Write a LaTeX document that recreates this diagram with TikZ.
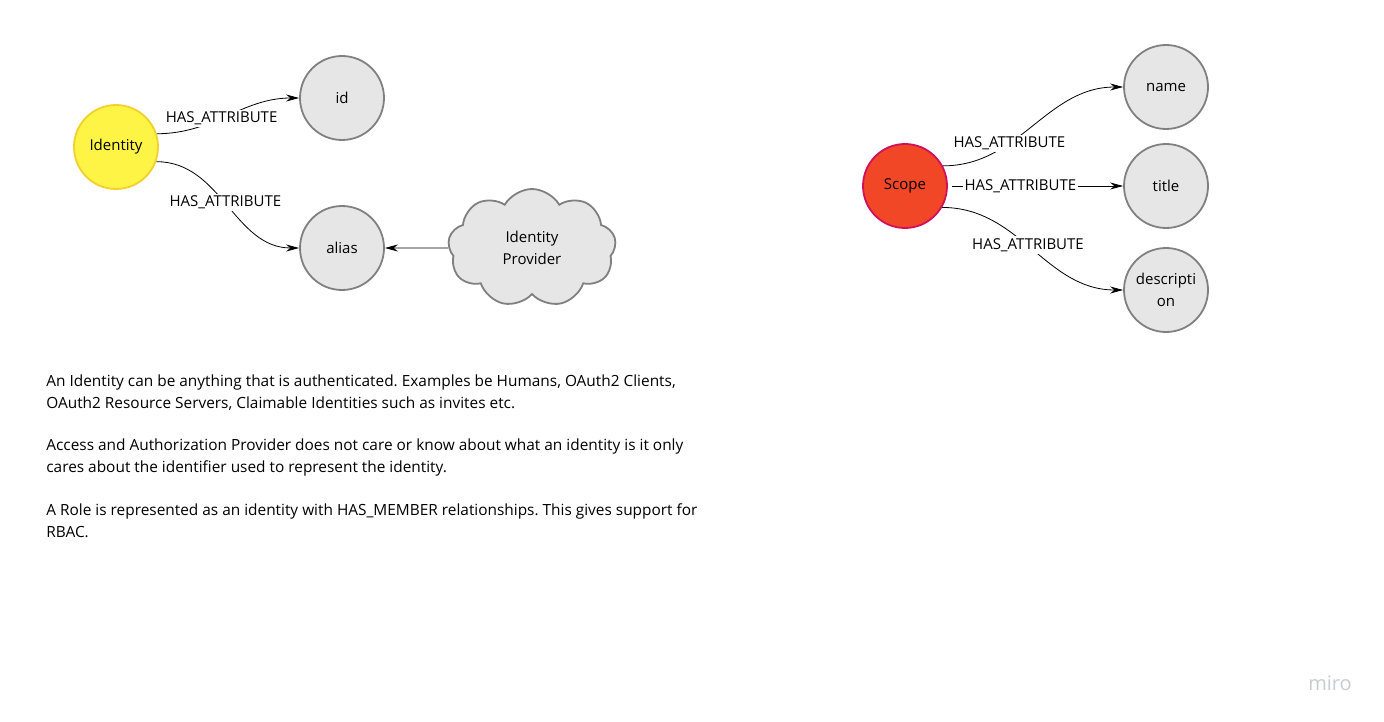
\documentclass[tikz,border=0pt]{standalone}
\usepackage{fontspec}
\setmainfont{Open Sans}
\usetikzlibrary{arrows.meta,shapes.symbols}
\frenchspacing

\definecolor{attrfill}{HTML}{E6E6E6}
\definecolor{attrline}{HTML}{808080}
\definecolor{idfill}{HTML}{FEF445}
\definecolor{idline}{HTML}{F2D02E}
\definecolor{scopefill}{HTML}{F24726}
\definecolor{scopeline}{HTML}{D0105A}
\definecolor{marktext}{HTML}{C9CBD1}

\tikzset{
  attr/.style={circle, draw=attrline, fill=attrfill, line width=1.8pt,
    minimum size=84pt, inner sep=0pt, align=center,
    font=\fontsize{15}{22}\selectfont},
  rel/.style={fill=white, inner sep=2pt, font=\fontsize{15}{17}\selectfont},
  para/.style={anchor=north west, align=left, inner sep=0pt,
    font=\fontsize{15.4}{22}\selectfont}
}

\begin{document}
\begin{tikzpicture}[x=1pt, y=-1pt, >={Stealth[length=13pt,width=7pt]}, line width=0.8pt]
    \useasboundingbox (0,0) rectangle (1384,722);

    % Identity and its attributes
    \node[attr, draw=idline, fill=idfill] (identity) at (116,147) {Identity};
    \node[attr] (id) at (342,98) {id};
    \node[attr] (alias) at (342,248) {alias};
    \node[cloud, cloud puffs=9, cloud puff arc=120, aspect=1.45,
      draw=attrline, fill=attrfill, line width=1.8pt,
      minimum width=168pt, minimum height=118pt, align=center,
      font=\fontsize{15}{22}\selectfont] (provider) at (532,248) {Identity\\Provider};

    \draw[->] (identity.18) to[out=0, in=180]
      node[rel, pos=0.45] {HAS\_ATTRIBUTE} (id.west);
    \draw[->] (identity.-20) to[out=0, in=180]
      node[rel, pos=0.48] {HAS\_ATTRIBUTE} (alias.west);
    \draw[->] (provider.west) -- (alias.east);

    % Scope and its attributes
    \node[attr, draw=scopeline, fill=scopefill] (scope) at (905,186) {Scope};
    \node[attr] (name) at (1166,87) {name};
    \node[attr] (title) at (1166,186) {title};
    \node[attr] (descr) at (1166,290) {descripti\\on};

    \draw[->] (scope.28) to[out=0, in=180]
      node[rel, pos=0.35] {HAS\_ATTRIBUTE} (name.west);
    \draw[->] (scope.east) ++(4,0) coordinate (scopeout) -- (title.west)
      node[rel, pos=0.4] {HAS\_ATTRIBUTE};
    \draw[->] (scope.-30) to[out=0, in=180]
      node[rel, pos=0.47] {HAS\_ATTRIBUTE} (descr.west);

    % Notes
    \node[para] (note1) at (46,374) {An Identity can be anything that is authenticated. Examples be Humans, OAuth2 Clients,\\
      OAuth2 Resource Servers, Claimable Identities such as invites etc.};
    \node[para] (note2) at (46,438) {Access and Authorization Provider does not care or know about what an identity is it only\\
      cares about the identifier used to represent the identity.};
    \node[para] (note3) at (46,503) {A Role is represented as an identity with HAS\_MEMBER relationships. This gives support for\\
      RBAC.};

    \node[text=marktext, font=\fontsize{20}{20}\selectfont] (miro) at (1330,683) {miro};
\end{tikzpicture}
\end{document}
